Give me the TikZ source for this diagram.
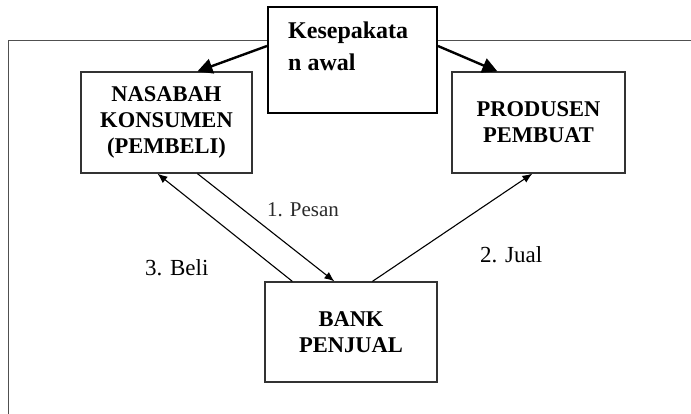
\documentclass[tikz,border=0pt]{standalone}
\usepackage{fontspec}
\setmainfont{Liberation Serif}
\usepackage{tikz}
\usetikzlibrary{arrows.meta}
\definecolor{KBorder}{HTML}{333333}
\definecolor{KFrame}{HTML}{505050}
\definecolor{KLabel}{HTML}{2A2A2A}

\begin{document}
\begin{tikzpicture}[x=1pt,y=-1pt,
  pihak/.style={draw=KBorder,line width=1.2pt,fill=white,align=center,inner sep=0pt,font=\fontsize{22.5}{26}\selectfont\bfseries},
  alur/.style={draw=black,line width=1.1pt,-{Latex[length=10pt,width=8pt]}},
  sepakat/.style={draw=black,line width=2.4pt,-{Triangle[length=15pt,width=15pt]}},
  ket/.style={anchor=base west,inner sep=0pt,font=\fontsize{23}{27}\selectfont}]
\path[use as bounding box] (0,0) rectangle (691,414);
\draw[KFrame,line width=1pt] (8.5,414) -- (8.5,41) -- (691,41);
\node[pihak,minimum width=171pt,minimum height=101pt] (nasabah) at (166.5,122.5) {NASABAH\\KONSUMEN\\(PEMBELI)};
\node[pihak,minimum width=173pt,minimum height=101pt] (produsen) at (538.5,122.5) {PRODUSEN\\PEMBUAT};
\node[pihak,minimum width=172pt,minimum height=100pt] (bank) at (351,332) {BANK\\PENJUAL};
\node[draw=black,line width=2pt,fill=white,minimum width=169pt,minimum height=106pt,inner sep=0pt] (kes) at (352.5,60) {};
\node[anchor=north west,inner sep=0pt,align=left,font=\fontsize{24}{32}\selectfont\bfseries] (kestext) at ([xshift=21pt,yshift=-15.6pt]kes.north west) {Kesepakata\\n awal};
\draw[sepakat] ([yshift=-40pt]kes.north west) -- ([xshift=117pt]nasabah.north west);
\draw[sepakat] ([yshift=-40pt]kes.north east) -- ([xshift=46pt]produsen.north west);
\draw[alur] ([xshift=117pt]nasabah.south west) -- ([xshift=70pt]bank.north west);
\draw[alur] ([xshift=28pt]bank.north west) -- ([xshift=77pt]nasabah.south west);
\draw[alur] ([xshift=108pt]bank.north west) -- ([xshift=81pt]produsen.south west);
\node[ket,font=\fontsize{21}{25}\selectfont,text=KLabel] (pesan) at (267,217) {1. Pesan};
\node[ket] (beli) at (145,276) {3. Beli};
\node[ket] (jual) at (480,262) {2. Jual};
\end{tikzpicture}
\end{document}
